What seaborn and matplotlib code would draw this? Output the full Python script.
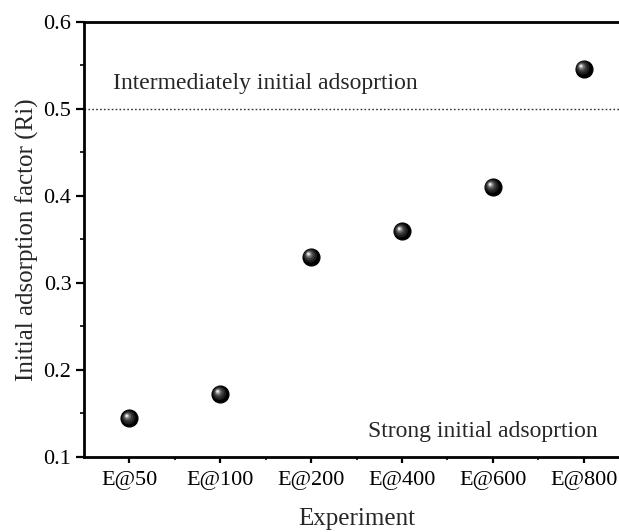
import numpy as np
import pandas as pd
import matplotlib
matplotlib.use("Agg")
import matplotlib.pyplot as plt
import matplotlib.transforms as mtransforms
from matplotlib.ticker import MultipleLocator, FixedLocator
import seaborn as sns

# Initial adsorption factor per experiment
experiments = ["E@50", "E@100", "E@200", "E@400", "E@600", "E@800"]
ri_values = [0.144, 0.172, 0.330, 0.359, 0.410, 0.546]
threshold = 0.5
upper_zone_label = "Intermediately initial adsoprtion"
lower_zone_label = "Strong initial adsoprtion"

sns.set_theme(style="ticks")
plt.rcParams["font.family"] = ["Liberation Serif", "DejaVu Serif"]

df = pd.DataFrame({"Experiment": experiments, "Ri": ri_values})

fig = plt.figure(figsize=(6.19, 5.32), dpi=100)
ax = fig.add_axes([84 / 619, 75.3 / 532, 545 / 619, 435 / 532])

# dark base of each sphere
sns.scatterplot(data=df, x="Experiment", y="Ri", s=150, color="black",
                edgecolor="black", linewidth=0.8, ax=ax, zorder=3, legend=False)

# layered highlights give the glossy sphere look
shades = [(95, "#1e1e1e", 0.6), (55, "#3a3a3a", 1.0), (26, "#6a6a6a", 1.4),
          (10, "#a8a8a8", 1.7), (3, "#ececec", 1.9)]
for size, colour, off in shades:
    shift = mtransforms.ScaledTranslation(-off / 72, off / 72, fig.dpi_scale_trans)
    sns.scatterplot(data=df, x="Experiment", y="Ri", s=size, color=colour,
                    edgecolor="none", linewidth=0, ax=ax, zorder=4, legend=False,
                    transform=ax.transData + shift)

ax.axhline(threshold, ls=(0, (1.2, 1.6)), color="#333333", lw=1.0, zorder=2)

ax.text(-0.18, 0.529, upper_zone_label, fontsize=17, va="center", ha="left")
ax.text(5.16, 0.129, lower_zone_label, fontsize=17, va="center", ha="right")

ax.set_xlim(-0.5, 5.5)
ax.set_ylim(0.1, 0.6)
ax.yaxis.set_major_locator(MultipleLocator(0.1))
ax.yaxis.set_minor_locator(MultipleLocator(0.05))
ax.xaxis.set_minor_locator(FixedLocator([0.5, 1.5, 2.5, 3.5, 4.5]))

ax.set_xlabel("Experiment", fontsize=18, labelpad=13)
ax.set_ylabel("Initial adsorption factor (Ri)", fontsize=18, labelpad=3)

for side in ["left", "bottom", "top"]:
    ax.spines[side].set_linewidth(2.0)
    ax.spines[side].set_color("black")
ax.spines["right"].set_visible(False)

ax.tick_params(axis="both", which="major", direction="out", width=1.6,
               labelsize=16, colors="black")
ax.tick_params(axis="y", which="major", length=6, pad=3)
ax.tick_params(axis="x", which="major", length=4.5, pad=6)
ax.tick_params(axis="y", which="minor", length=3, width=1.4, direction="out")
ax.tick_params(axis="x", which="minor", length=2.5, width=1.4, direction="out")
ax.tick_params(top=False, right=False, which="both")

fig.savefig("out.png", dpi=100)
